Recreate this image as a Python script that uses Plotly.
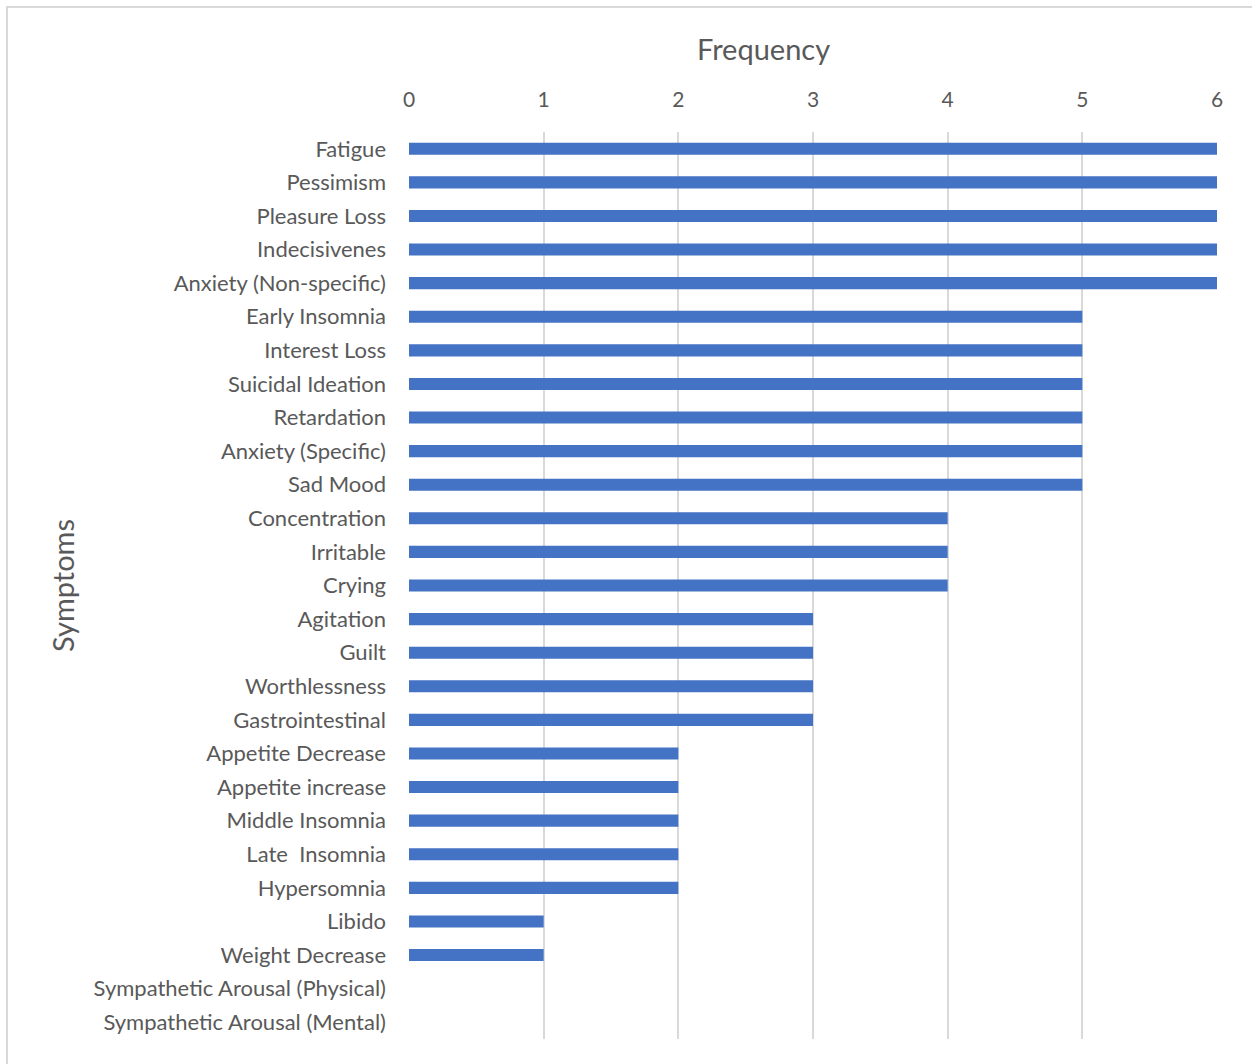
import plotly.graph_objects as go

symptoms = [
    "Fatigue", "Pessimism", "Pleasure Loss", "Indecisivenes", "Anxiety (Non-specific)",
    "Early Insomnia", "Interest Loss", "Suicidal Ideation", "Retardation", "Anxiety (Specific)",
    "Sad Mood", "Concentration", "Irritable", "Crying", "Agitation", "Guilt",
    "Worthlessness", "Gastrointestinal", "Appetite Decrease", "Appetite increase",
    "Middle Insomnia", "Late  Insomnia", "Hypersomnia", "Libido", "Weight Decrease",
    "Sympathetic Arousal (Physical)", "Sympathetic Arousal (Mental)",
]
frequency = [6, 6, 6, 6, 6, 5, 5, 5, 5, 5, 5, 4, 4, 4, 3, 3, 3, 3, 2, 2, 2, 2, 2, 1, 1, 0, 0]
x_ticks = [0, 1, 2, 3, 4, 5, 6]

FONT = "Lato, Open Sans, sans-serif"
TEXT = "#595959"

W, H = 1252, 1064
ML, MR, MT, MB = 409, 35, 132, 25
plot_w = W - ML - MR
plot_h = H - MT - MB


def px_x(px):
    return (px - ML) / plot_w


def px_y(py):
    return (H - MB - py) / plot_h


fig = go.Figure(
    go.Bar(
        x=frequency,
        y=[s.replace("  ", "\u00a0 ") for s in symptoms],
        orientation="h",
        marker=dict(color="#4472C4", line=dict(width=0)),
        width=0.36,
    )
)

fig.update_layout(
    width=W,
    height=H,
    margin=dict(l=ML, r=MR, t=MT, b=MB),
    paper_bgcolor="white",
    plot_bgcolor="white",
    font=dict(family=FONT, color=TEXT, size=22),
    showlegend=False,
    xaxis=dict(
        side="top",
        range=[0, 6],
        tickvals=x_ticks,
        showgrid=True,
        gridcolor="#D9D9D9",
        gridwidth=1.5,
        zeroline=False,
        showline=False,
        tickfont=dict(size=21, color=TEXT),
        ticklabelstandoff=20,
    ),
    yaxis=dict(
        autorange="reversed",
        showgrid=False,
        zeroline=False,
        showline=False,
        tickfont=dict(size=22, color=TEXT),
        ticklabelstandoff=22,
    ),
    annotations=[
        dict(text="Frequency", x=px_x(763), y=px_y(49), xref="paper", yref="paper",
             xanchor="center", yanchor="middle",
             showarrow=False, font=dict(size=29, color=TEXT)),
        dict(text="Symptoms", x=px_x(62), y=px_y(586), xref="paper", yref="paper",
             xanchor="center", yanchor="middle",
             showarrow=False, textangle=-90, font=dict(size=29, color=TEXT)),
    ],
    shapes=[
        dict(type="rect", xref="paper", yref="paper",
             x0=px_x(7), x1=px_x(1300), y0=px_y(1100), y1=px_y(7),
             line=dict(color="#D9D9D9", width=2), layer="below"),
    ],
)

fig.write_html("out.html")
